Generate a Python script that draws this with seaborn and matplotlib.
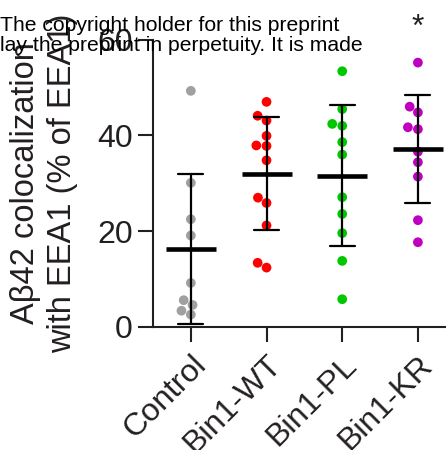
import pandas as pd
import matplotlib
matplotlib.use("Agg")
import matplotlib.pyplot as plt
import seaborn as sns

# values (% of EEA1)
control = [49.3, 30.1, 22.5, 19.1, 9.2, 5.6, 4.6, 3.4, 2.6]
bin1_wt = [47.0, 44.1, 43.1, 39.9, 37.9, 37.8, 34.8, 27.0, 25.9, 21.2, 13.4, 12.4]
bin1_pl = [53.4, 45.5, 42.4, 42.0, 38.6, 36.0, 27.1, 23.6, 19.6, 13.8, 5.8]
bin1_kr = [55.2, 46.0, 44.8, 41.7, 41.3, 36.6, 34.4, 31.4, 22.3, 17.7]
groups = ["Control", "Bin1-WT", "Bin1-PL", "Bin1-KR"]
palette = ["#a0a0a2", "#ff0000", "#00c800", "#c000c0"]

df = pd.DataFrame({
    "group": (["Control"] * len(control) + ["Bin1-WT"] * len(bin1_wt)
              + ["Bin1-PL"] * len(bin1_pl) + ["Bin1-KR"] * len(bin1_kr)),
    "value": control + bin1_wt + bin1_pl + bin1_kr,
})

sns.set_style("ticks")
plt.rcParams["font.family"] = ["Liberation Sans", "DejaVu Sans"]
ink = "#231f20"

fig = plt.figure(figsize=(4.46, 4.5), dpi=100)
ax = fig.add_axes([153 / 446, 123 / 450, 302.75 / 446, 287.4 / 450])

sns.swarmplot(data=df, x="group", y="value", hue="group", order=groups,
              hue_order=groups, palette=palette, size=7, legend=False, ax=ax,
              zorder=3)
sns.pointplot(data=df, x="group", y="value", order=groups, estimator="mean",
              errorbar="sd", color="black", markers="_", linestyle="none",
              capsize=0.33, err_kws={"linewidth": 1.6}, markersize=36,
              markeredgewidth=3.3, ax=ax, zorder=4)

ax.set_xlim(-0.5, 3.5)
ax.set_ylim(0, 60)
ax.set_yticks([0, 20, 40, 60])
ax.set_xlabel("")
ax.set_ylabel("A\u03b242 colocalization\nwith EEA1 (% of EEA1)",
              fontsize=23.5, color=ink, linespacing=1.25)
ax.yaxis.set_label_coords(-0.248, 0.5)
ax.tick_params(axis="both", length=10.5, width=1.5, labelsize=23, colors=ink)
ax.tick_params(axis="x", pad=6)
ax.tick_params(axis="y", pad=4)
for lab in ax.get_xticklabels():
    lab.set_rotation(45)
    lab.set_ha("right")
    lab.set_va("top")
    lab.set_rotation_mode("anchor")
sns.despine(ax=ax)
ax.spines["left"].set_linewidth(1.5)
ax.spines["bottom"].set_linewidth(1.5)
ax.spines["left"].set_color(ink)
ax.spines["bottom"].set_color(ink)

ax.text(3, 62.4, "*", ha="center", va="center", fontsize=23, color=ink,
        clip_on=False)

fig.text(0, 1 - 31 / 450, "The copyright holder for this preprint",
         fontsize=15.2, color="black", va="baseline", ha="left", zorder=10)
fig.text(0, 1 - 51 / 450, "lay the preprint in perpetuity. It is made",
         fontsize=15.2, color="black", va="baseline", ha="left", zorder=10)

fig.savefig("out.png", dpi=100, facecolor="white")
